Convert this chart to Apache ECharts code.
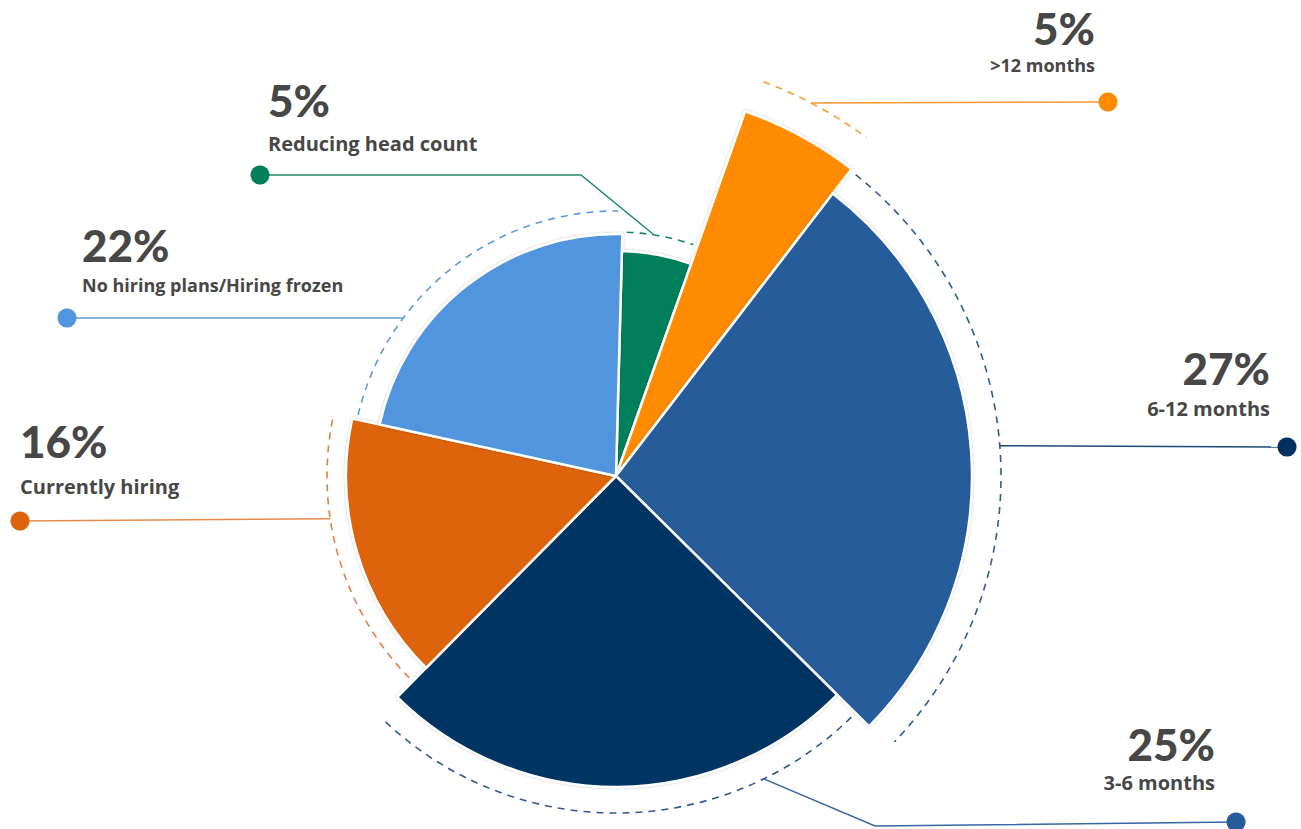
<!DOCTYPE html>
<html>
<head>
<meta charset="utf-8">
<style>
  html, body { margin: 0; padding: 0; background: #ffffff; }
  #chart { width: 1301px; height: 829px; }
</style>
<script src="https://cdn.jsdelivr.net/npm/echarts@6/dist/echarts.min.js"></script>
</head>
<body>
<div id="chart"></div>
<script>
// Hiring outlook shares, listed clockwise from 12 o'clock
const categories = ['Reducing head count', '>12 months', '6-12 months', '3-6 months', 'Currently hiring', 'No hiring plans/Hiring frozen'];
const values = [5, 5, 27, 25, 16, 22];

// Colours per slice
const sliceColors = ['#007f5a', '#ff8c00', '#255c99', '#003563', '#dd630d', '#5195df'];
const arcColors   = ['#1a8a66', '#f7a035', '#2d5d98', '#2f5a8f', '#e38140', '#5d9be0'];
const lineColors  = ['#1f8a68', '#f29a30', '#1f4778', '#3566a5', '#e68a4c', '#5b98dd'];
const dotColors   = ['#007f5a', '#ff8c00', '#00305f', '#265c99', '#dd630d', '#5195df'];

// Layout in pixels / degrees (clockwise from 12 o'clock)
const CENTER = [616, 476];
const START = 1.5;
const sliceRadius = [225, 387, 356, 311, 270, 242];
const arcRadius   = [244, 421, 385, 337, 289, 265];
const leaderAngle = [9, 27.6, 85.5, 154, 261.5, 306.6];
const leaderBend  = [[581, 175], null, null, [875, 826], null, null];
const dotPos      = [[260, 175], [1108, 102], [1287, 447], [1236, 822], [20, 521], [67, 318]];
// [x, value-label middle y, name-label middle y, alignment]
const labelPos    = [
  [268, 100, 143, 'left'],
  [1095, 28, 65, 'right'],
  [1270, 368, 408, 'right'],
  [1215, 744, 782, 'right'],
  [20, 441, 486, 'left'],
  [82, 245, 285, 'left']
];
const nameFontSize = [20, 18, 20, 20, 20, 18];

const TEXT_COLOR = '#474747';
const VALUE_FONT = 'Lato, "Open Sans", sans-serif';
const NAME_FONT = '"Open Sans", Lato, sans-serif';

const total = values.reduce((a, b) => a + b, 0);
const startOf = values.map((v, i) => START + 360 * values.slice(0, i).reduce((a, b) => a + b, 0) / total);
const endOf = values.map((v, i) => startOf[i] + 360 * v / total);

const toRad = deg => (deg - 90) * Math.PI / 180;
const polar = (deg, r) => [
  CENTER[0] + r * Math.sin(deg * Math.PI / 180),
  CENTER[1] - r * Math.cos(deg * Math.PI / 180)
];

// One pie per slice so every slice can have its own outer radius;
// the other items of each pie stay invisible but keep the angles.
const pieSeries = values.map((_, i) => ({
  type: 'pie',
  silent: true,
  animation: false,
  center: CENTER,
  radius: [0, sliceRadius[i]],
  startAngle: 90 - START,
  clockwise: true,
  label: { show: false },
  labelLine: { show: false },
  emphasis: { disabled: true },
  z: 2,
  data: values.map((v, j) => ({
    name: categories[j],
    value: v,
    itemStyle: j === i
      ? { color: sliceColors[j], borderColor: '#ffffff', borderWidth: 2.5,
          shadowBlur: 2, shadowColor: 'rgba(0,0,0,0.28)' }
      : { color: 'rgba(0,0,0,0)', borderWidth: 0 }
  }))
}));

// Dashed outer arcs, leader lines, end dots and labels
const annotationSeries = {
  type: 'custom',
  coordinateSystem: 'none',
  silent: true,
  animation: false,
  z: 3,
  data: values.map((v, i) => [i, v]),
  renderItem: (params, api) => {
    const i = params.dataIndex;
    const a0 = startOf[i] + 1;
    const a1 = endOf[i] - 1;
    const anchor = polar(leaderAngle[i], arcRadius[i]);
    const pts = [anchor];
    if (leaderBend[i]) pts.push(leaderBend[i]);
    pts.push(dotPos[i]);
    const lp = labelPos[i];
    return {
      type: 'group',
      children: [
        {
          type: 'arc',
          shape: { cx: CENTER[0], cy: CENTER[1], r: arcRadius[i], startAngle: toRad(a0), endAngle: toRad(a1), clockwise: true },
          style: { stroke: arcColors[i], fill: 'none', lineWidth: 1.6, lineDash: [7, 6] }
        },
        {
          type: 'polyline',
          shape: { points: pts },
          style: { stroke: lineColors[i], fill: 'none', lineWidth: 1.5 }
        },
        {
          type: 'circle',
          shape: { cx: dotPos[i][0], cy: dotPos[i][1], r: 9.5 },
          style: { fill: dotColors[i] }
        },
        {
          type: 'text',
          style: {
            text: values[i] + '%', x: lp[0], y: lp[1],
            fill: TEXT_COLOR, fontSize: 44, fontWeight: 900, fontFamily: VALUE_FONT,
            align: lp[3], verticalAlign: 'middle'
          }
        },
        {
          type: 'text',
          style: {
            text: categories[i], x: lp[0], y: lp[2],
            fill: TEXT_COLOR, fontSize: nameFontSize[i], fontWeight: 'bold', fontFamily: NAME_FONT,
            align: lp[3], verticalAlign: 'middle'
          }
        }
      ]
    };
  }
};

const chart = echarts.init(document.getElementById('chart'), null, { renderer: 'svg' });
chart.setOption({
  backgroundColor: '#ffffff',
  animation: false,
  series: pieSeries.concat([annotationSeries])
});
</script>
</body>
</html>
